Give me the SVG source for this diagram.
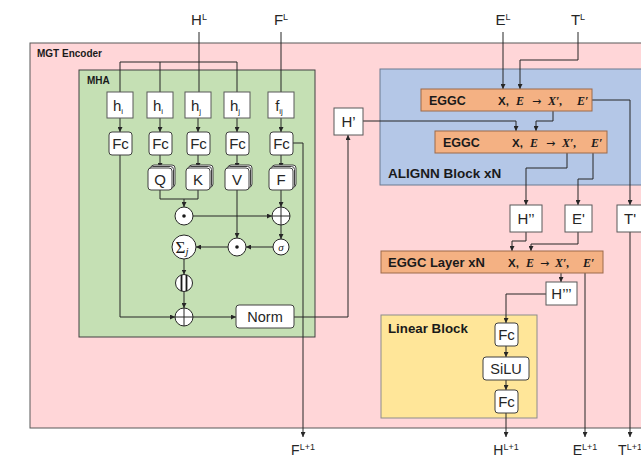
<svg xmlns="http://www.w3.org/2000/svg" width="641" height="459" viewBox="0 0 641 459">
<defs>
<marker id="ah" viewBox="0 0 6 6" refX="6" refY="3" markerWidth="5" markerHeight="5" markerUnits="userSpaceOnUse" orient="auto"><path d="M0,0 L6,3 L0,6 z" fill="#262626"/></marker>
<style>
.t{font-family:"Liberation Sans",Arial,sans-serif;fill:#262626}
.b{font-family:"Liberation Sans",Arial,sans-serif;font-weight:bold;fill:#1a1a1a}
.m{font-family:"Liberation Serif","Times New Roman",serif;font-style:italic;font-weight:bold;fill:#1a1a1a;font-size:12px}
.ms{font-family:"Liberation Sans",Arial,sans-serif;font-weight:bold;fill:#1a1a1a;font-size:11.5px}
.ar{font-family:"DejaVu Sans",sans-serif;fill:#1a1a1a;font-size:11px}
.box{fill:#fff;stroke:#595959;stroke-width:1}
.rbox{fill:#fff;stroke:#404040;stroke-width:1}
.op{fill:#fff;stroke:#262626;stroke-width:1}
.eg{fill:#f4b183;stroke:#9c6a4a;stroke-width:1}
.c{fill:none;stroke:#262626;stroke-width:1}
.a{fill:none;stroke:#262626;stroke-width:1;marker-end:url(#ah)}
</style>
</defs>
<rect width="641" height="459" fill="#fff"/>
<!-- containers -->
<g id="mgt-encoder">
<rect x="30" y="43" width="625" height="385" fill="#ffd6d8" stroke="#595959"/>
<text class="b" x="37" y="57" font-size="10">MGT Encoder</text>
</g>
<g id="mha">
<rect x="79" y="70" width="236" height="267" fill="#c5e0b4" stroke="#404040"/>
<text class="b" x="87" y="84" font-size="10">MHA</text>
</g>
<g id="alignn">
<rect x="380" y="69" width="275" height="116" fill="#b4c7e7" stroke="#6b7a90"/>
<text class="b" x="388" y="178" font-size="13.5">ALIGNN Block xN</text>
</g>
<g id="linear-block">
<rect x="381" y="315" width="156" height="103" fill="#ffe699" stroke="#8c8c8c"/>
<text class="b" x="388" y="333" font-size="13.3">Linear Block</text>
</g>

<!-- connectors -->
<g id="connectors">
<path class="c" d="M199,32 V92 M120,92 V62 H237 V92 M160,62 V92 M281,32 V92"/>
<path class="a" d="M120,118 V132"/><path class="a" d="M160,118 V132"/><path class="a" d="M198,118 V132"/><path class="a" d="M237,118 V132"/><path class="a" d="M281,118 V132"/>
<path class="a" d="M160,155 V168"/><path class="a" d="M198,155 V168"/><path class="a" d="M237,155 V168"/><path class="a" d="M281,155 V168"/>
<path class="a" d="M120,155 V317 H175"/>
<path class="c" d="M160,190 V199 H198 V190"/>
<path class="a" d="M184,199 V207"/>
<path class="a" d="M193,216 H272"/>
<path class="a" d="M281,190 V207"/>
<path class="a" d="M281,225 V239"/>
<path class="a" d="M273,247 H246"/>
<path class="a" d="M237,190 V238"/>
<path class="a" d="M228,247 H196"/>
<path class="a" d="M184,259 V274.5"/>
<path class="a" d="M184,291.5 V308"/>
<path class="a" d="M193,317 H236"/>
<path class="a" d="M294,317 H348 V135"/>
<path class="a" d="M292,143 H303 V437"/>
<path class="a" d="M363,121 H516 V131"/>
<path class="a" d="M503,32 V89"/>
<path class="a" d="M578,32 V60 H520 V89"/>
<path class="a" d="M553,111 V121 H536 V131"/>
<path class="a" d="M592,100 H630 V205"/>
<path class="a" d="M567,153 V168 H526 V205"/>
<path class="a" d="M593,153 V179 H578 V205"/>
<path class="a" d="M526,232 V241 H512 V251"/>
<path class="a" d="M578,232 V244 H531 V251"/>
<path class="a" d="M561,273 V282"/>
<path class="a" d="M585,273 V437"/>
<path class="a" d="M630,232 V437"/>
<path class="a" d="M546,294 H506 V323"/>
<path class="a" d="M506,346 V357"/>
<path class="a" d="M506,380 V390"/>
<path class="a" d="M506,413 V437"/>
</g>

<!-- external labels -->
<g id="label-HL"><text class="t" x="199" y="25" font-size="15" text-anchor="middle">H<tspan font-size="9" dy="-5">L</tspan></text></g>
<g id="label-FL"><text class="t" x="281" y="25" font-size="15" text-anchor="middle">F<tspan font-size="9" dy="-5">L</tspan></text></g>
<g id="label-EL"><text class="t" x="503" y="25" font-size="15" text-anchor="middle">E<tspan font-size="9" dy="-5">L</tspan></text></g>
<g id="label-TL"><text class="t" x="578" y="25" font-size="15" text-anchor="middle">T<tspan font-size="9" dy="-5">L</tspan></text></g>
<g id="label-FL1"><text class="t" x="303" y="455" font-size="14" text-anchor="middle">F<tspan font-size="9" dy="-5">L+1</tspan></text></g>
<g id="label-HL1"><text class="t" x="506" y="455" font-size="14" text-anchor="middle">H<tspan font-size="9" dy="-5">L+1</tspan></text></g>
<g id="label-EL1"><text class="t" x="585" y="455" font-size="14" text-anchor="middle">E<tspan font-size="9" dy="-5">L+1</tspan></text></g>
<g id="label-TL1"><text class="t" x="630" y="455" font-size="14" text-anchor="middle">T<tspan font-size="9" dy="-5">L+1</tspan></text></g>

<!-- MHA input nodes -->
<g id="hi1"><rect class="box" x="107" y="92" width="26" height="26"/><text class="t" x="118" y="111" font-size="15" text-anchor="middle">h<tspan font-size="8" dy="3">i</tspan></text></g>
<g id="hi2"><rect class="box" x="147" y="92" width="26" height="26"/><text class="t" x="158" y="111" font-size="15" text-anchor="middle">h<tspan font-size="8" dy="3">i</tspan></text></g>
<g id="hj1"><rect class="box" x="185" y="92" width="26" height="26"/><text class="t" x="196" y="111" font-size="15" text-anchor="middle">h<tspan font-size="8" dy="3">j</tspan></text></g>
<g id="hj2"><rect class="box" x="224" y="92" width="26" height="26"/><text class="t" x="235" y="111" font-size="15" text-anchor="middle">h<tspan font-size="8" dy="3">j</tspan></text></g>
<g id="fij"><rect class="box" x="268" y="92" width="26" height="26"/><text class="t" x="279" y="111" font-size="15" text-anchor="middle">f<tspan font-size="8" dy="3">ij</tspan></text></g>

<!-- Fc nodes -->
<g id="fc1"><rect class="rbox" x="109" y="132" width="23" height="23" rx="3"/><text class="t" x="120.5" y="149" font-size="15" text-anchor="middle">Fc</text></g>
<g id="fc2"><rect class="rbox" x="149" y="132" width="23" height="23" rx="3"/><text class="t" x="160.5" y="149" font-size="15" text-anchor="middle">Fc</text></g>
<g id="fc3"><rect class="rbox" x="187" y="132" width="23" height="23" rx="3"/><text class="t" x="198.5" y="149" font-size="15" text-anchor="middle">Fc</text></g>
<g id="fc4"><rect class="rbox" x="226" y="132" width="23" height="23" rx="3"/><text class="t" x="237.5" y="149" font-size="15" text-anchor="middle">Fc</text></g>
<g id="fc5"><rect class="rbox" x="270" y="132" width="23" height="23" rx="3"/><text class="t" x="281.5" y="149" font-size="15" text-anchor="middle">Fc</text></g>

<!-- Q K V F stacked -->
<g id="q"><rect class="rbox" x="151" y="165" width="24" height="22" rx="3"/><rect class="rbox" x="149.5" y="166.5" width="24" height="22" rx="3"/><rect class="rbox" x="148" y="168" width="24" height="22" rx="3"/><text class="t" x="160" y="185" font-size="15" text-anchor="middle">Q</text></g>
<g id="k"><rect class="rbox" x="189" y="165" width="24" height="22" rx="3"/><rect class="rbox" x="187.5" y="166.5" width="24" height="22" rx="3"/><rect class="rbox" x="186" y="168" width="24" height="22" rx="3"/><text class="t" x="198" y="185" font-size="15" text-anchor="middle">K</text></g>
<g id="v"><rect class="rbox" x="228" y="165" width="24" height="22" rx="3"/><rect class="rbox" x="226.5" y="166.5" width="24" height="22" rx="3"/><rect class="rbox" x="225" y="168" width="24" height="22" rx="3"/><text class="t" x="237" y="185" font-size="15" text-anchor="middle">V</text></g>
<g id="f"><rect class="rbox" x="272" y="165" width="24" height="22" rx="3"/><rect class="rbox" x="270.5" y="166.5" width="24" height="22" rx="3"/><rect class="rbox" x="269" y="168" width="24" height="22" rx="3"/><text class="t" x="281" y="185" font-size="15" text-anchor="middle">F</text></g>

<!-- operators -->
<g id="dot1"><circle class="op" cx="184" cy="216" r="9"/><circle cx="184" cy="216" r="1.8" fill="#1a1a1a"/></g>
<g id="plus1"><circle class="op" cx="281" cy="216" r="9"/><path class="c" d="M272,216 H290 M281,207 V225"/></g>
<g id="sigma"><circle class="op" cx="281" cy="247" r="8"/><text x="281" y="250.5" font-family="'Liberation Serif',serif" font-style="italic" font-size="11" text-anchor="middle" fill="#1a1a1a">σ</text></g>
<g id="dot2"><circle class="op" cx="237" cy="247" r="9"/><circle cx="237" cy="247" r="1.8" fill="#1a1a1a"/></g>
<g id="sum"><circle class="op" cx="184" cy="247" r="12"/><text x="182" y="253" font-family="'Liberation Serif',serif" font-size="17" text-anchor="middle" fill="#1a1a1a">Σ<tspan font-size="11" font-style="italic" dy="2">j</tspan></text></g>
<g id="concat"><circle class="op" cx="184" cy="283" r="8.5"/><path d="M181.5,275 V291 M186.5,275 V291" stroke="#1a1a1a" stroke-width="1.8"/></g>
<g id="plus2"><circle class="op" cx="184" cy="317" r="9"/><path class="c" d="M175,317 H193 M184,308 V326"/></g>
<g id="norm"><rect class="rbox" x="236" y="305" width="58" height="23" rx="3"/><text class="t" x="265" y="322" font-size="14.5" text-anchor="middle">Norm</text></g>

<!-- right side -->
<g id="h1"><rect class="box" x="334" y="108" width="29" height="27"/><text class="t" x="348.5" y="127" font-size="15" text-anchor="middle">H’</text></g>
<g id="eggc1"><rect class="eg" x="421" y="89" width="171" height="22"/><text class="b" x="429" y="105" font-size="12.5">EGGC</text>
<text class="ms" x="498" y="105">X,</text><text class="m" x="516" y="105">E</text><text class="ar" x="532" y="104.5">→</text><text class="m" x="548" y="105">X′,</text><text class="m" x="577" y="105">E′</text></g>
<g id="eggc2"><rect class="eg" x="435" y="131" width="172" height="22"/><text class="b" x="443" y="147" font-size="12.5">EGGC</text>
<text class="ms" x="512" y="147">X,</text><text class="m" x="530" y="147">E</text><text class="ar" x="546" y="146.5">→</text><text class="m" x="562" y="147">X′,</text><text class="m" x="591" y="147">E′</text></g>
<g id="h2"><rect class="box" x="510" y="205" width="32" height="27"/><text class="t" x="526" y="224" font-size="15" text-anchor="middle">H’’</text></g>
<g id="e1"><rect class="box" x="565" y="205" width="27" height="27"/><text class="t" x="578.5" y="224" font-size="15" text-anchor="middle">E'</text></g>
<g id="t1"><rect class="box" x="617" y="205" width="30" height="27"/><text class="t" x="630" y="224" font-size="15" text-anchor="middle">T'</text></g>
<g id="eggc-layer"><rect class="eg" x="381" y="251" width="222" height="22"/><text class="b" x="388" y="267" font-size="13">EGGC Layer xN</text>
<text class="ms" x="508" y="267">X,</text><text class="m" x="526" y="267">E</text><text class="ar" x="540" y="266.5">→</text><text class="m" x="555" y="267">X′,</text><text class="m" x="583" y="267">E′</text></g>
<g id="h3"><rect class="box" x="546" y="282" width="31" height="23"/><text class="t" x="561.5" y="299" font-size="15" text-anchor="middle">H’’’</text></g>
<g id="lin-fc1"><rect class="rbox" x="495" y="323" width="23" height="23" rx="3"/><text class="t" x="506.5" y="340" font-size="15" text-anchor="middle">Fc</text></g>
<g id="silu"><rect class="rbox" x="483" y="357" width="46" height="23" rx="3"/><text class="t" x="506" y="374" font-size="14.5" text-anchor="middle">SiLU</text></g>
<g id="lin-fc2"><rect class="rbox" x="495" y="390" width="23" height="23" rx="3"/><text class="t" x="506.5" y="407" font-size="15" text-anchor="middle">Fc</text></g>
</svg>
